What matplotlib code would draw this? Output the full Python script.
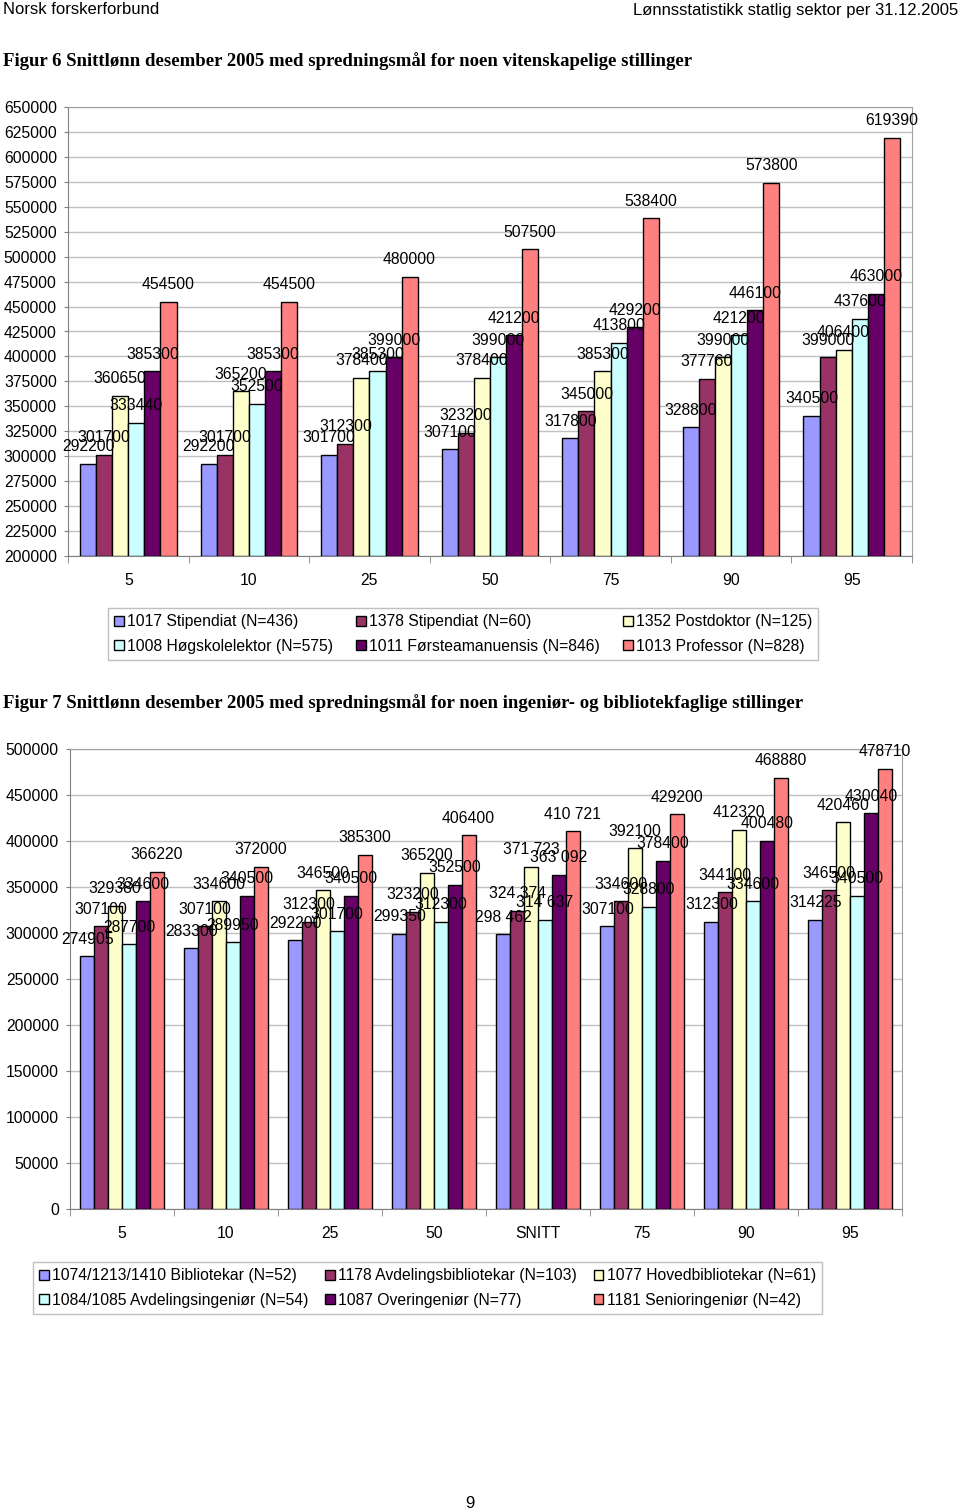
import numpy as np
import matplotlib
matplotlib.use('Agg')
import matplotlib.pyplot as plt

plt.rcParams['font.family'] = ['Liberation Sans', 'DejaVu Sans']

#figur 6 data
cats6 = ['5', '10', '25', '50', '75', '90', '95']
names6 = ['1017 Stipendiat (N=436)', '1378 Stipendiat (N=60)', '1352 Postdoktor (N=125)',
          '1008 Høgskolelektor (N=575)', '1011 Førsteamanuensis (N=846)', '1013 Professor (N=828)']
stip1017 = [292200, 292200, 301700, 307100, 317800, 328800, 340500]
stip1378 = [301700, 301700, 312300, 323200, 345000, 377760, 399000]
postdok = [360650, 365200, 378400, 378400, 385300, 399000, 406400]
hsklektor = [333440, 352500, 385300, 399000, 413800, 421200, 437600]
forsteam = [385300, 385300, 399000, 421200, 429200, 446100, 463000]
professor = [454500, 454500, 480000, 507500, 538400, 573800, 619390]

#figur 7 data
cats7 = ['5', '10', '25', '50', 'SNITT', '75', '90', '95']
names7 = ['1074/1213/1410 Bibliotekar (N=52)', '1178 Avdelingsbibliotekar (N=103)',
          '1077 Hovedbibliotekar (N=61)', '1084/1085 Avdelingsingeniør (N=54)',
          '1087 Overingeniør (N=77)', '1181 Senioringeniør (N=42)']
bibliotekar = [274905, 283300, 292200, 299350, 298462, 307100, 312300, 314225]
avdbibl = [307100, 307100, 312300, 323200, 324374, 334600, 344100, 346500]
hovedbibl = [329380, 334600, 346500, 365200, 371723, 392100, 412320, 420460]
avdingenior = [287700, 289950, 301700, 312300, 314637, 328800, 334600, 340500]
overingenior = [334600, 340500, 340500, 352500, 363092, 378400, 400480, 430040]
senioringenior = [366220, 372000, 385300, 406400, 410721, 429200, 468880, 478710]

colors = ['#9999FF', '#993366', '#FFFFCC', '#CCFFFF', '#660066', '#FF8080']
FS = 11.3


def fmt(v, cat):
    if cat == 'SNITT':
        return f'{v:,}'.replace(',', ' ')
    return str(v)


def drawChart(ax, cats, series, names, ymin, ymax, ystep):
    n = len(series)
    x = np.arange(len(cats))
    w = 0.8 / n
    bars = []
    for i, vals in enumerate(series):
        pos = x - 0.4 + w * (i + 0.5)
        b = ax.bar(pos, np.array(vals) - ymin, bottom=ymin, width=w, color=colors[i],
                   edgecolor='black', linewidth=1.0, zorder=3, label=names[i])
        bars.append(b)
        for p, v, c in zip(pos, vals, cats):
            ax.annotate(fmt(v, c), (p, v), xytext=(0, 12.3), textcoords='offset points',
                        ha='center', va='center', fontsize=FS, zorder=5)
    ax.set_xlim(-0.5, len(cats) - 0.5)
    ax.set_ylim(ymin, ymax)
    ax.set_yticks(np.arange(ymin, ymax + 1, ystep))
    ax.set_yticklabels([str(t) for t in np.arange(ymin, ymax + 1, ystep)], fontsize=FS)
    ax.set_xticks(x)
    ax.set_xticklabels(cats, fontsize=FS)
    ax.set_xticks(np.arange(-0.5, len(cats)), minor=True)
    ax.tick_params(axis='x', which='major', length=0, pad=12)
    ax.tick_params(axis='x', which='minor', length=5, color='#808080', direction='out')
    ax.tick_params(axis='y', length=3, color='#808080', pad=5)
    ax.grid(axis='y', color='#C0C0C0', linewidth=1, zorder=0)
    ax.set_axisbelow(True)
    for s in ['top', 'right']:
        ax.spines[s].set_color('#A0A0A0')
    for s in ['left', 'bottom']:
        ax.spines[s].set_color('#808080')
    return bars


fig = plt.figure(figsize=(9.6, 15.12), dpi=100)

#header
narrow = ['Liberation Sans Narrow', 'Liberation Sans', 'DejaVu Sans']
fig.text(3 / 960, 1 - 10 / 1512, 'Norsk forskerforbund', fontsize=12, family=narrow, va='center')
fig.text(958 / 960, 1 - 10 / 1512, 'Lønnsstatistikk statlig sektor per 31.12.2005',
         fontsize=12, family=narrow, va='center', ha='right')

serif = ['Liberation Serif', 'DejaVu Serif']
fig.text(3 / 960, 1 - 61 / 1512,
         'Figur 6 Snittlønn desember 2005 med spredningsmål for noen vitenskapelige stillinger',
         fontsize=13.5, family=serif, weight='bold', va='center')
fig.text(3 / 960, 1 - 703 / 1512,
         'Figur 7 Snittlønn desember 2005 med spredningsmål for noen ingeniør- og bibliotekfaglige stillinger',
         fontsize=13.5, family=serif, weight='bold', va='center')

order = [0, 3, 1, 4, 2, 5]

#figur 6
ax1 = fig.add_axes([68 / 960, 1 - 556 / 1512, (912 - 68) / 960, (556 - 107) / 1512])
bars1 = drawChart(ax1, cats6, [stip1017, stip1378, postdok, hsklektor, forsteam, professor],
                  names6, 200000, 650000, 25000)
leg1 = fig.legend([bars1[i] for i in order], [names6[i] for i in order],
                  loc='upper left', bbox_to_anchor=(108 / 960, 1 - 608 / 1512), ncol=3,
                  fontsize=FS, frameon=True, fancybox=False, edgecolor='#B0B0B0',
                  handlelength=0.6, handleheight=0.6, handletextpad=0.2,
                  columnspacing=1.5, labelspacing=0.6, borderpad=0.4, borderaxespad=0)
leg1.get_frame().set_linewidth(1)

#figur 7
ax2 = fig.add_axes([70 / 960, 1 - 1209 / 1512, (902 - 70) / 960, (1209 - 749) / 1512])
bars2 = drawChart(ax2, cats7, [bibliotekar, avdbibl, hovedbibl, avdingenior, overingenior, senioringenior],
                  names7, 0, 500000, 50000)
leg2 = fig.legend([bars2[i] for i in order], [names7[i] for i in order],
                  loc='upper left', bbox_to_anchor=(33 / 960, 1 - 1262 / 1512), ncol=3,
                  fontsize=FS, frameon=True, fancybox=False, edgecolor='#B0B0B0',
                  handlelength=0.6, handleheight=0.6, handletextpad=0.2,
                  columnspacing=1.1, labelspacing=0.6, borderpad=0.4, borderaxespad=0)
leg2.get_frame().set_linewidth(1)

#page number
fig.text(470 / 960, 1 - 1503 / 1512, '9', fontsize=12, ha='center', va='center')

plt.savefig('out.png', dpi=100)
